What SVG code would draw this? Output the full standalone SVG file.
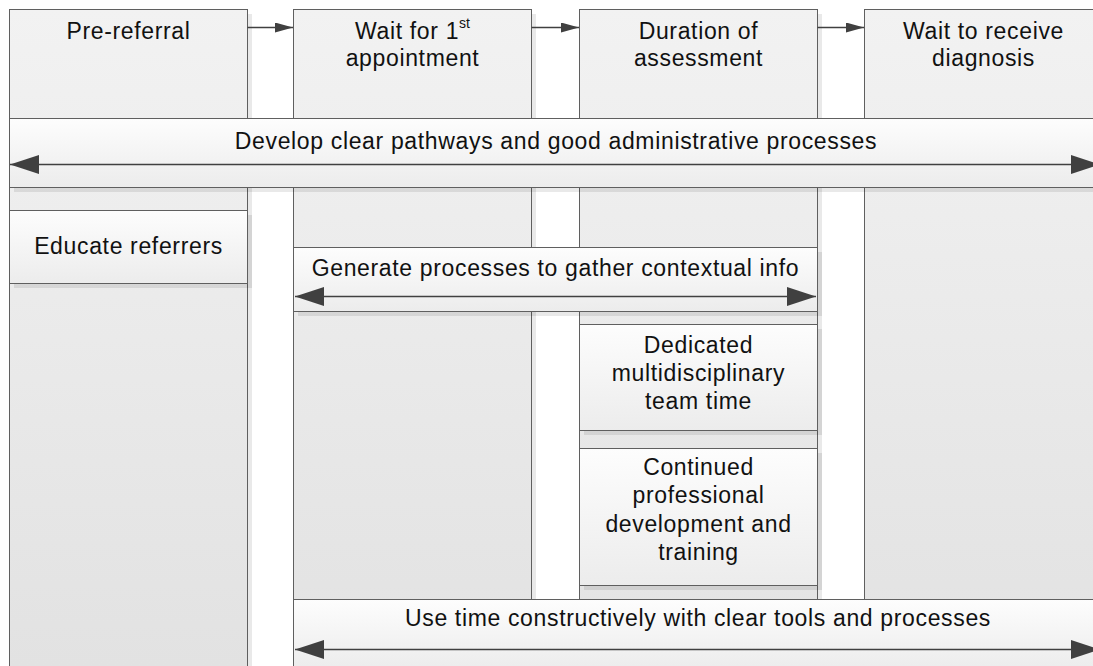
<svg xmlns="http://www.w3.org/2000/svg" width="1093" height="666" viewBox="0 0 1093 666">
<style>
  .col{fill:url(#colGrad);stroke:#5f5f5f;stroke-width:1}
  .box{fill:url(#boxGrad);stroke:#5f5f5f;stroke-width:1}
  .shd{fill:#000;fill-opacity:0.085}
  .t{font-family:"Liberation Sans",Arial,sans-serif;font-size:23px;letter-spacing:0.65px;fill:#111;text-anchor:middle}
  .conn{stroke:#404040;stroke-width:1.3;fill:none}
  .dbl{stroke:#404040;stroke-width:1.5;fill:none}
</style>
<defs>
  <linearGradient id="colGrad" gradientUnits="userSpaceOnUse" x1="0" y1="9" x2="0" y2="666">
    <stop offset="0" stop-color="#f2f2f2"/>
    <stop offset="1" stop-color="#e2e2e2"/>
  </linearGradient>
  <linearGradient id="boxGrad" x1="0" y1="0" x2="0" y2="1">
    <stop offset="0" stop-color="#fdfdfd"/>
    <stop offset="1" stop-color="#ececec"/>
  </linearGradient>
  <marker id="ah" markerUnits="userSpaceOnUse" markerWidth="18" markerHeight="10" refX="18" refY="5" orient="auto">
    <path d="M0,0 L18,5 L0,10 Z" fill="#404040"/>
  </marker>
  <marker id="big" markerUnits="userSpaceOnUse" markerWidth="29" markerHeight="19" refX="29" refY="9.5" orient="auto-start-reverse">
    <path d="M0,0 L29,9.5 L0,19 Z" fill="#404040"/>
  </marker>
</defs>
<rect x="0" y="0" width="1093" height="666" fill="#ffffff"/>

<g id="col-prereferral">
  <rect class="shd" x="14" y="14" width="238" height="700"/>
  <rect class="col" x="9.5" y="9.5" width="238" height="700"/>
  <text class="t" x="128.5" y="38.5">Pre-referral</text>
</g>
<g id="col-wait-first">
  <rect class="shd" x="298" y="14" width="238" height="700"/>
  <rect class="col" x="293.5" y="9.5" width="238" height="700"/>
  <text class="t" x="412.5" y="38.5">Wait for 1<tspan font-size="14" letter-spacing="0" dy="-11">st</tspan></text>
  <text class="t" x="412.5" y="66">appointment</text>
</g>
<g id="col-duration">
  <rect class="shd" x="584" y="14" width="238" height="700"/>
  <rect class="col" x="579.5" y="9.5" width="238" height="700"/>
  <text class="t" x="698.5" y="38.5">Duration of</text>
  <text class="t" x="698.5" y="66">assessment</text>
</g>
<g id="col-wait-diagnosis">
  <rect class="shd" x="869" y="14" width="238" height="700"/>
  <rect class="col" x="864.5" y="9.5" width="238" height="700"/>
  <text class="t" x="983.5" y="38.5">Wait to receive</text>
  <text class="t" x="983.5" y="66">diagnosis</text>
</g>

<g id="connectors">
  <line class="conn" x1="247.5" y1="27.5" x2="293" y2="27.5" marker-end="url(#ah)"/>
  <line class="conn" x1="531.5" y1="27.5" x2="579" y2="27.5" marker-end="url(#ah)"/>
  <line class="conn" x1="817.5" y1="27.5" x2="864" y2="27.5" marker-end="url(#ah)"/>
</g>

<g id="band-pathways">
  <rect class="shd" x="14" y="123" width="1093" height="69"/>
  <rect class="box" x="9.5" y="118.5" width="1093" height="69"/>
  <text class="t" x="556" y="149">Develop clear pathways and good administrative processes</text>
  <line class="dbl" x1="10" y1="164.5" x2="1100" y2="164.5" marker-start="url(#big)" marker-end="url(#big)"/>
</g>

<g id="box-educate">
  <rect class="shd" x="14" y="215" width="238" height="73"/>
  <rect class="box" x="9.5" y="210.5" width="238" height="73"/>
  <text class="t" x="128.5" y="254">Educate referrers</text>
</g>

<g id="band-contextual">
  <rect class="shd" x="298" y="252" width="524" height="64"/>
  <rect class="box" x="293.5" y="247.5" width="524" height="64"/>
  <text class="t" x="555.5" y="276">Generate processes to gather contextual info</text>
  <line class="dbl" x1="295" y1="296.5" x2="816" y2="296.5" marker-start="url(#big)" marker-end="url(#big)"/>
</g>

<g id="box-mdt">
  <rect class="shd" x="584" y="329" width="238" height="106"/>
  <rect class="box" x="579.5" y="324.5" width="238" height="106"/>
  <text class="t" x="698.5" y="353">Dedicated</text>
  <text class="t" x="698.5" y="381">multidisciplinary</text>
  <text class="t" x="698.5" y="409">team time</text>
</g>

<g id="box-cpd">
  <rect class="shd" x="584" y="453" width="238" height="137"/>
  <rect class="box" x="579.5" y="448.5" width="238" height="137"/>
  <text class="t" x="698.5" y="475">Continued</text>
  <text class="t" x="698.5" y="503">professional</text>
  <text class="t" x="698.5" y="532">development and</text>
  <text class="t" x="698.5" y="560">training</text>
</g>

<g id="band-tools">
  <rect class="shd" x="298" y="604" width="809" height="70"/>
  <rect class="box" x="293.5" y="599.5" width="809" height="70"/>
  <text class="t" x="698" y="626">Use time constructively with clear tools and processes</text>
  <line class="dbl" x1="295" y1="649.5" x2="1100" y2="649.5" marker-start="url(#big)" marker-end="url(#big)"/>
</g>
</svg>
